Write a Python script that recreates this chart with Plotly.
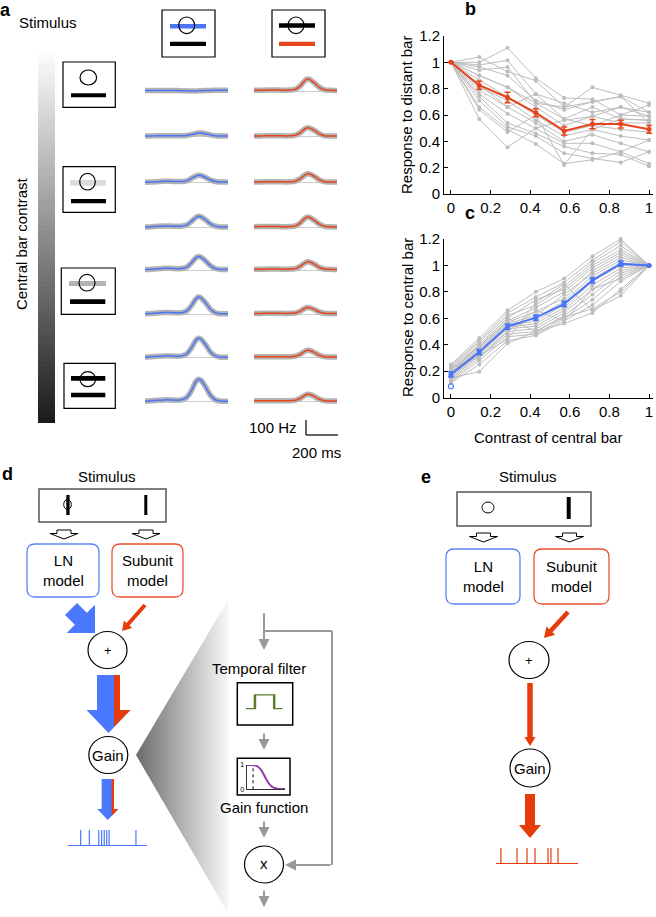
import math
import plotly.graph_objects as go

W, H = 656, 917

# ---------------- data ----------------
contrast = [0, 1/7, 2/7, 3/7, 4/7, 5/7, 6/7, 1]
contrast_ticks = [0, 0.2, 0.4, 0.6, 0.8, 1]
contrast_ticktext = ['0', '0.2', '0.4', '0.6', '0.8', '1']
response_ticks = [0, 0.2, 0.4, 0.6, 0.8, 1, 1.2]
response_ticktext = ['0', '0.2', '0.4', '0.6', '0.8', '1', '1.2']

distant_cells = [
    [1.0, 1.04, 0.93, 0.86, 0.66, 0.81, 0.75, 0.69],
    [1.0, 1.00, 1.11, 0.88, 0.73, 0.72, 0.60, 0.675],
    [1.0, 0.98, 1.015, 0.76, 0.69, 0.62, 0.66, 0.59],
    [1.0, 0.965, 0.90, 0.71, 0.64, 0.70, 0.74, 0.62],
    [1.0, 0.94, 0.965, 0.69, 0.57, 0.66, 0.57, 0.56],
    [1.0, 0.90, 0.81, 0.66, 0.52, 0.59, 0.54, 0.54],
    [1.0, 0.864, 0.74, 0.60, 0.47, 0.52, 0.49, 0.47],
    [1.0, 0.81, 0.71, 0.56, 0.44, 0.49, 0.44, 0.41],
    [1.0, 0.79, 0.66, 0.54, 0.40, 0.45, 0.385, 0.32],
    [1.0, 0.76, 0.61, 0.50, 0.385, 0.385, 0.32, 0.23],
    [1.0, 0.74, 0.54, 0.46, 0.36, 0.31, 0.30, 0.21],
    [1.0, 0.71, 0.51, 0.44, 0.31, 0.27, 0.24, 0.32],
    [1.0, 0.66, 0.49, 0.38, 0.23, 0.26, 0.32, 0.41],
    [1.0, 0.64, 0.47, 0.60, 0.22, 0.49, 0.57, 0.56],
    [1.0, 0.57, 0.355, 0.50, 0.56, 0.59, 0.66, 0.62],
    [1.0, 0.83, 0.66, 0.76, 0.57, 0.52, 0.60, 0.59],
    [1.0, 0.90, 0.81, 0.69, 0.66, 0.70, 0.74, 0.54],
]
distant_mean = [1.0, 0.826, 0.733, 0.617, 0.479, 0.531, 0.531, 0.491]
distant_err = [0.0, 0.03, 0.04, 0.03, 0.03, 0.035, 0.03, 0.03]

central_cells = [
    [0.25, 0.45, 0.66, 0.80, 0.90, 1.07, 1.20, 1.0],
    [0.24, 0.43, 0.64, 0.76, 0.87, 1.04, 1.18, 1.0],
    [0.23, 0.42, 0.62, 0.70, 0.84, 1.02, 1.15, 1.0],
    [0.22, 0.40, 0.60, 0.74, 0.82, 1.00, 1.12, 1.0],
    [0.21, 0.39, 0.58, 0.68, 0.80, 0.98, 1.10, 1.0],
    [0.20, 0.38, 0.57, 0.65, 0.75, 0.96, 1.08, 1.0],
    [0.19, 0.37, 0.56, 0.62, 0.78, 0.94, 1.06, 1.0],
    [0.18, 0.36, 0.55, 0.60, 0.73, 0.92, 1.04, 1.0],
    [0.17, 0.35, 0.54, 0.58, 0.70, 0.90, 1.02, 1.0],
    [0.16, 0.34, 0.53, 0.56, 0.68, 0.88, 1.00, 1.0],
    [0.15, 0.33, 0.52, 0.54, 0.66, 0.85, 0.98, 1.0],
    [0.14, 0.32, 0.50, 0.52, 0.64, 0.82, 0.96, 1.0],
    [0.13, 0.30, 0.48, 0.50, 0.62, 0.78, 0.94, 1.0],
    [0.12, 0.28, 0.46, 0.48, 0.60, 0.74, 0.92, 1.0],
    [0.11, 0.25, 0.43, 0.47, 0.58, 0.70, 0.88, 1.0],
    [0.15, 0.195, 0.41, 0.50, 0.56, 0.64, 0.82, 1.0],
    [0.20, 0.32, 0.44, 0.72, 0.86, 0.66, 0.77, 1.0],
    [0.18, 0.40, 0.60, 0.50, 0.61, 0.67, 0.80, 1.0],
    [0.23, 0.30, 0.50, 0.66, 0.58, 0.82, 0.90, 1.0],
]
central_mean = [0.175, 0.344, 0.537, 0.605, 0.709, 0.886, 1.013, 1.0]
central_err = [0.02, 0.02, 0.02, 0.02, 0.02, 0.02, 0.02, 0.0]
central_open_x = [0]
central_open_y = [0.085]

# panel a: firing-rate traces (Hz) vs time (ms)
trace_time = [0, 40, 80, 120, 160, 200, 230, 260, 290, 320, 335, 350, 380, 410, 440, 470, 500, 520]
blue_rates = [
    [4, 4, 4, 4, 3, 3, 2, 1, 0, 0, 1, 2, 3, 4, 5, 5, 5, 5],
    [4, 5, 6, 7, 7, 6, 6, 8, 14, 22, 25, 25, 20, 12, 7, 5, 5, 5],
    [3, 5, 7, 9, 9, 8, 8, 12, 28, 45, 50, 48, 35, 18, 8, 5, 4, 4],
    [3, 5, 8, 10, 10, 8, 9, 16, 40, 68, 75, 72, 50, 24, 9, 4, 3, 3],
    [3, 5, 8, 11, 11, 9, 10, 18, 46, 82, 90, 86, 60, 28, 10, 4, 3, 3],
    [3, 6, 9, 12, 12, 10, 11, 21, 56, 104, 115, 110, 76, 34, 11, 4, 3, 3],
    [3, 6, 9, 12, 12, 10, 12, 24, 64, 118, 130, 124, 86, 38, 12, 4, 3, 3],
    [3, 6, 9, 12, 12, 10, 13, 27, 72, 136, 150, 143, 98, 43, 13, 4, 3, 3],
]
red_rates = [
    [5, 5, 6, 6, 6, 5, 6, 12, 34, 70, 80, 76, 52, 24, 8, 5, 4, 4],
    [5, 5, 6, 6, 6, 5, 6, 10, 27, 53, 60, 57, 40, 19, 7, 5, 4, 4],
    [5, 5, 6, 7, 6, 5, 6, 10, 27, 52, 60, 58, 41, 19, 7, 5, 4, 4],
    [5, 6, 7, 7, 6, 5, 6, 11, 31, 62, 70, 67, 46, 22, 8, 5, 4, 4],
    [5, 5, 6, 6, 6, 5, 6, 9, 25, 48, 55, 53, 37, 17, 7, 5, 4, 4],
    [6, 6, 7, 7, 7, 6, 7, 9, 21, 40, 45, 43, 31, 15, 7, 5, 5, 5],
    [6, 6, 7, 7, 7, 6, 7, 10, 23, 44, 50, 48, 34, 16, 7, 5, 5, 5],
    [6, 6, 7, 7, 7, 6, 7, 10, 23, 44, 50, 48, 34, 16, 7, 5, 5, 5],
]

contrast_levels = list(range(60))  # gradient bar levels

spikes_d = [16, 27, 39, 42.6, 45.9, 49, 52, 86]
spikes_e = [6, 25.6, 37.8, 47.6, 63.4, 67, 75.6]
filter_t = [0, 0.25, 0.25, 0.77, 0.77, 1]
filter_v = [0, 0, 1, 1, 0, 0]
gainfn_x = [0, 0.1, 0.2, 0.3, 0.4, 0.5, 0.6, 0.7, 0.8, 0.9, 1]
gainfn_y = [1, 1, 0.99, 0.93, 0.75, 0.45, 0.2, 0.07, 0.02, 0.01, 0.01]
gainfn_threshold = [0.17]

# ---------------- styling ----------------
BLUE = '#4b74f7'
RED = '#e8441c'
ABLUE = '#4a78ff'
ARED = '#e63c0a'
GRAY = '#bdbdbd'
FONT = 'Liberation Sans, Arial, sans-serif'


def X(px):
    return px / W


def Y(py):
    return 1 - py / H


def P(x, y):
    return f"{X(x):.5f},{Y(y):.5f}"


def poly(pts):
    return 'M ' + ' L '.join(P(x, y) for x, y in pts) + ' Z'


shapes = []
annotations = []


def rect(x0, y0, x1, y1, fill='rgba(0,0,0,0)', line=None, lw=1.2):
    shapes.append(dict(type='rect', xref='paper', yref='paper', x0=X(x0), x1=X(x1), y0=Y(y0), y1=Y(y1),
                       fillcolor=fill, line=dict(color=line or 'rgba(0,0,0,0)', width=lw if line else 0)))


def ellipse(cx, cy, rx, ry, line='black', lw=1.2, fill='rgba(0,0,0,0)'):
    shapes.append(dict(type='circle', xref='paper', yref='paper', x0=X(cx - rx), x1=X(cx + rx),
                       y0=Y(cy - ry), y1=Y(cy + ry), fillcolor=fill, line=dict(color=line, width=lw)))


def path(d, fill='rgba(0,0,0,0)', line=None, lw=1.0):
    shapes.append(dict(type='path', xref='paper', yref='paper', path=d, fillcolor=fill,
                       line=dict(color=line or 'rgba(0,0,0,0)', width=lw if line else 0)))


def seg(x0, y0, x1, y1, color, lw):
    shapes.append(dict(type='line', xref='paper', yref='paper', x0=X(x0), x1=X(x1), y0=Y(y0), y1=Y(y1),
                       line=dict(color=color, width=lw)))


def text(t, x, y, size=15, angle=0, bold=False, color='black'):
    annotations.append(dict(text=f'<b>{t}</b>' if bold else t, x=X(x), y=Y(y), xref='paper', yref='paper',
                            showarrow=False, xanchor='center', yanchor='middle', textangle=angle,
                            font=dict(size=size, family=FONT, color=color)))


def garrow(x, y, ax, ay):
    annotations.append(dict(text='', x=X(x), y=Y(y), xref='paper', yref='paper', showarrow=True,
                            ax=ax, ay=ay, arrowhead=2, arrowsize=1.1, arrowwidth=2, arrowcolor='#999999'))


def block_arrow(tail, tip, shaft_w, head_w, head_len):
    (x0, y0), (x1, y1) = tail, tip
    dx, dy = x1 - x0, y1 - y0
    L = math.hypot(dx, dy)
    ux, uy = dx / L, dy / L
    px, py = -uy, ux
    bx, by = x1 - ux * head_len, y1 - uy * head_len
    pts = [(x0 + px * shaft_w / 2, y0 + py * shaft_w / 2), (bx + px * shaft_w / 2, by + py * shaft_w / 2),
           (bx + px * head_w / 2, by + py * head_w / 2), (x1, y1),
           (bx - px * head_w / 2, by - py * head_w / 2), (bx - px * shaft_w / 2, by - py * shaft_w / 2),
           (x0 - px * shaft_w / 2, y0 - py * shaft_w / 2)]
    return poly(pts)


def rounded(x0, y0, x1, y1, r):
    return (f"M {P(x0 + r, y0)} L {P(x1 - r, y0)} Q {P(x1, y0)} {P(x1, y0 + r)} "
            f"L {P(x1, y1 - r)} Q {P(x1, y1)} {P(x1 - r, y1)} L {P(x0 + r, y1)} "
            f"Q {P(x0, y1)} {P(x0, y1 - r)} L {P(x0, y0 + r)} Q {P(x0, y0)} {P(x0 + r, y0)} Z")


def hollow_arrow(cx, y0):
    pts = [(cx - 7, y0), (cx + 7, y0), (cx + 7, y0 + 3.5), (cx + 14, y0 + 3.5), (cx, y0 + 9),
           (cx - 14, y0 + 3.5), (cx - 7, y0 + 3.5)]
    path(poly(pts), fill='white', line='black', lw=1)


fig = go.Figure()
layout = dict(width=W, height=H, autosize=False, margin=dict(l=0, r=0, t=0, b=0, autoexpand=False),
              paper_bgcolor='white', plot_bgcolor='white', showlegend=False,
              font=dict(family=FONT, size=15, color='black'))

# ---------------- panels b and c ----------------
def style_axes(xa, ya, ydom):
    layout[xa] = dict(domain=[X(444), X(653)], range=[-0.035, 1.02], anchor=ya.replace('axis', ''),
                      tickvals=contrast_ticks, ticktext=contrast_ticktext, ticks='inside', ticklen=4,
                      tickcolor='black', showline=True, linecolor='black', linewidth=1, showgrid=False,
                      zeroline=False, tickfont=dict(size=15))
    layout[ya] = dict(domain=ydom, range=[0, 1.2], anchor=xa.replace('axis', ''),
                      tickvals=response_ticks, ticktext=response_ticktext, ticks='inside', ticklen=4,
                      tickcolor='black', showline=True, linecolor='black', linewidth=1, showgrid=False,
                      zeroline=False, tickfont=dict(size=15))


style_axes('xaxis', 'yaxis', [Y(194), Y(36)])
style_axes('xaxis2', 'yaxis2', [Y(397.5), Y(239)])

for cell in distant_cells:
    fig.add_trace(go.Scatter(x=contrast, y=cell, mode='lines+markers', xaxis='x', yaxis='y',
                             line=dict(color=GRAY, width=1), marker=dict(size=4, color=GRAY),
                             cliponaxis=False, hoverinfo='skip'))
fig.add_trace(go.Scatter(x=contrast, y=distant_mean, mode='lines+markers', xaxis='x', yaxis='y',
                         line=dict(color=RED, width=2), marker=dict(size=5, color=RED),
                         error_y=dict(type='data', array=distant_err, color=RED, thickness=1.5, width=3),
                         cliponaxis=False))

for cell in central_cells:
    fig.add_trace(go.Scatter(x=contrast, y=cell, mode='lines+markers', xaxis='x2', yaxis='y2',
                             line=dict(color=GRAY, width=1), marker=dict(size=4, color=GRAY),
                             cliponaxis=False, hoverinfo='skip'))
fig.add_trace(go.Scatter(x=contrast, y=central_mean, mode='lines+markers', xaxis='x2', yaxis='y2',
                         line=dict(color=BLUE, width=2), marker=dict(size=5, color=BLUE),
                         error_y=dict(type='data', array=central_err, color=BLUE, thickness=1.5, width=3),
                         cliponaxis=False))
fig.add_trace(go.Scatter(x=central_open_x, y=central_open_y, mode='markers', xaxis='x2', yaxis='y2',
                         marker=dict(size=5, color=BLUE, symbol='circle-open', line=dict(width=1.2)),
                         cliponaxis=False))

text('b', 470, 9, size=18, bold=True)
text('c', 470, 213, size=18, bold=True)
text('Response to distant bar', 407, 115, angle=-90)
text('Response to central bar', 407, 318, angle=-90)
text('Contrast of central bar', 548, 437)

# ---------------- panel a ----------------
row_base = [91, 136.7, 182.7, 227.5, 270, 314.3, 357.7, 401.7]
col_px = [(145, 228), (254, 337)]
hz_per_px = 100 / 15.0
n = 3
for c, (rates, color) in enumerate([(blue_rates, BLUE), (red_rates, RED)]):
    for r, vals in enumerate(rates):
        base = row_base[r]
        layout[f'xaxis{n}'] = dict(domain=[X(col_px[c][0]), X(col_px[c][1])], range=[0, 520],
                                   visible=False, anchor=f'y{n}')
        layout[f'yaxis{n}'] = dict(domain=[Y(base + 6), Y(base - 30)], range=[-6 * hz_per_px, 30 * hz_per_px],
                                   anchor=f'x{n}', showgrid=False, showticklabels=False, ticks='',
                                   showline=False, zeroline=True, zerolinecolor='#cccccc', zerolinewidth=1)
        fig.add_trace(go.Scatter(x=trace_time, y=vals, xaxis=f'x{n}', yaxis=f'y{n}', mode='lines',
                                 line=dict(color='#b3b3b3', width=5.5, shape='spline'), hoverinfo='skip'))
        fig.add_trace(go.Scatter(x=trace_time, y=vals, xaxis=f'x{n}', yaxis=f'y{n}', mode='lines',
                                 line=dict(color=color, width=1.5, shape='spline')))
        n += 1

# gradient contrast bar
layout['xaxis19'] = dict(domain=[X(38), X(55)], range=[-0.5, 0.5], visible=False, anchor='y19')
layout['yaxis19'] = dict(domain=[Y(423), Y(52)], range=[-0.5, len(contrast_levels) - 0.5], visible=False, anchor='x19')
fig.add_trace(go.Heatmap(z=[[v] for v in contrast_levels], x=[0], y=contrast_levels, xaxis='x19', yaxis='y19',
                         colorscale=[[0, '#1c1c1c'], [1, '#fbfbfb']], showscale=False, hoverinfo='skip'))

text('a', 5, 10, size=18, bold=True)
text('Stimulus', 48, 22)
text('Central bar contrast', 21, 244, angle=-90)
text('100 Hz', 273, 427)
text('200 ms', 316, 452)
seg(306, 420, 306, 435, 'black', 1.2)
seg(306, 435, 338, 435, 'black', 1.2)

# stimulus icons (top)
rect(162, 10, 215, 57, line='black', lw=1.2)
rect(170, 24, 206, 28.5, fill=BLUE)
rect(170, 41.7, 206, 46, fill='black')
ellipse(186.7, 25.3, 8, 8.3)
rect(272, 10, 325, 57, line='black', lw=1.2)
rect(279, 23.3, 315, 27.7, fill='black')
rect(279, 41.7, 315, 46, fill=RED)
ellipse(296, 25.3, 8, 8.3)
# stimulus icons (left)
rect(63, 62, 115.3, 107.3, line='black', lw=1.2)
ellipse(88.3, 77.5, 8.3, 7.5)
rect(71, 93.3, 106, 97.3, fill='black')
rect(63, 166.7, 115.3, 212.3, line='black', lw=1.2)
rect(70, 180, 106, 185.7, fill='#dddddd')
ellipse(87.5, 181.7, 7.8, 8.3)
rect(71, 199, 106, 203.3, fill='black')
rect(61.3, 268, 115.3, 314.3, line='black', lw=1.2)
rect(69, 281, 106, 286, fill='#b3b3b3')
ellipse(87, 282.7, 8, 8.3)
rect(70, 299.3, 105.3, 304, fill='black')
rect(64, 363.3, 115.3, 408.3, line='black', lw=1.2)
rect(71, 376, 105.3, 380.7, fill='black')
ellipse(87.8, 379.2, 7.8, 7.5)
rect(71, 392.7, 105.3, 397.3, fill='black')

# ---------------- panel d ----------------
text('d', 7, 474, size=18, bold=True)
text('Stimulus', 107, 477)
rect(39, 489, 166, 522, line='#555555', lw=1.5)
ellipse(67.5, 504.5, 3.8, 5, lw=1)
rect(66.3, 495, 69.6, 515, fill='black')
rect(144.3, 495, 147.3, 515, fill='black')
hollow_arrow(64, 530)
hollow_arrow(146, 530)
path(rounded(27, 544, 99, 597, 8), line='#5c86f7', lw=1.3)
path(rounded(112, 544, 183, 597, 8), line='#e9532d', lw=1.3)
text('LN<br>model', 63, 570)
text('Subunit<br>model', 148, 570)
path(block_arrow((71, 609), (95, 633), 17, 40, 20), fill=ABLUE)
path(block_arrow((145, 605), (122, 631), 4, 11, 9), fill=ARED)
ellipse(107.5, 650, 19.5, 18.5)
text('+', 107.5, 650, size=13)
path(block_arrow((108.5, 675), (108.5, 733), 23, 44, 23), fill=ABLUE)
path(poly([(114, 675), (120, 675), (120, 710), (130.5, 710), (114, 726.7)]), fill=ARED)
ellipse(108.3, 755, 19.5, 18.5)
text('Gain', 108.3, 755)
path(block_arrow((107.8, 779), (107.8, 820), 12.3, 21, 11), fill=ABLUE)
path(poly([(111.7, 779), (114, 779), (114, 809), (118.3, 809), (111.7, 815.8)]), fill=ARED)

# gradient wedge
nstrip = 46
x_tip, y_tip, x_end = 136, 755, 228
for k in range(nstrip):
    xa = x_tip + (x_end - x_tip) * k / nstrip
    xb = x_tip + (x_end - x_tip) * (k + 1.15) / nstrip
    xb = min(xb, x_end)
    ta = y_tip - (xa - x_tip) * 155 / 92
    tb = y_tip - (xb - x_tip) * 155 / 92
    ba = y_tip + (xa - x_tip) * 158 / 92
    bb = y_tip + (xb - x_tip) * 158 / 92
    g = int(108 + (248 - 108) * (k + 0.5) / nstrip)
    path(poly([(xa, ta), (xb, tb), (xb, bb), (xa, ba)]), fill=f'rgb({g},{g},{g})')

# right-hand gain-control loop
seg(264, 613, 264, 631, '#999999', 2)
seg(264, 631, 332, 631, '#999999', 2)
seg(332, 631, 332, 865, '#999999', 2)
garrow(264, 650, 0, -37)
garrow(285, 865, 47, 0)
text('Temporal filter', 259, 668)
rect(237.3, 682.7, 292.7, 725, line='black', lw=1.5)
garrow(264, 750, 0, -18)
rect(237.3, 758.3, 290, 795, line='black', lw=1.5)
text('Gain function', 263.5, 807)
garrow(264, 838, 0, -18)
ellipse(264, 864.5, 19.5, 18.5)
text('x', 264, 863)
garrow(264, 907, 0, -18)

# temporal filter icon
layout['xaxis22'] = dict(domain=[X(245.7), X(282.7)], range=[0, 1], visible=False, anchor='y22')
layout['yaxis22'] = dict(domain=[Y(709.3), Y(694.3)], range=[0, 1], visible=False, anchor='x22')
fig.add_trace(go.Scatter(x=filter_t, y=filter_v, xaxis='x22', yaxis='y22', mode='lines',
                         line=dict(color='#5e7b2c', width=2.5), cliponaxis=False))

# gain function icon
layout['xaxis23'] = dict(domain=[X(246.5), X(285)], range=[0, 1], anchor='y23', showline=True,
                         linecolor='#333333', linewidth=1, ticks='', showticklabels=False,
                         showgrid=False, zeroline=False)
layout['yaxis23'] = dict(domain=[Y(789.3), Y(765)], range=[0, 1], anchor='x23', showline=True,
                         linecolor='#333333', linewidth=1, ticks='', tickvals=[0, 1], ticktext=['0', '1'],
                         tickfont=dict(size=7), showgrid=False, zeroline=False)
fig.add_trace(go.Scatter(x=gainfn_threshold * 2, y=[0, 1], xaxis='x23', yaxis='y23', mode='lines',
                         line=dict(color='black', width=1, dash='dot')))
fig.add_trace(go.Scatter(x=gainfn_x, y=gainfn_y, xaxis='x23', yaxis='y23', mode='lines',
                         line=dict(color='#8e3fa8', width=2, shape='spline'), cliponaxis=False))

# spike trains
def spike_axes(k, x0, x1, ybase, color):
    layout[f'xaxis{k}'] = dict(domain=[X(x0), X(x1)], range=[0, 100], visible=False, anchor=f'y{k}')
    layout[f'yaxis{k}'] = dict(domain=[Y(ybase + 1), Y(ybase - 15)], range=[-1 / 15, 1], anchor=f'x{k}',
                               showgrid=False, showticklabels=False, ticks='', showline=False,
                               zeroline=True, zerolinecolor=color, zerolinewidth=1.2)


spike_axes(20, 68, 147, 845, ABLUE)
sx, sy = [], []
for t in spikes_d:
    sx += [t, t, None]
    sy += [0, 1, None]
fig.add_trace(go.Scatter(x=sx, y=sy, xaxis='x20', yaxis='y20', mode='lines',
                         line=dict(color=ABLUE, width=1.2)))

# ---------------- panel e ----------------
text('e', 426, 477, size=18, bold=True)
text('Stimulus', 528, 477)
rect(457, 492, 591, 526, line='#555555', lw=1.5)
ellipse(488, 507.5, 6, 5.5, lw=1)
rect(566.7, 497, 570.7, 519, fill='black')
hollow_arrow(483.5, 533)
hollow_arrow(569.5, 533)
path(rounded(446, 549, 520, 604, 8), line='#5c86f7', lw=1.3)
path(rounded(534, 549, 609, 604, 8), line='#e9532d', lw=1.3)
text('LN<br>model', 483, 576)
text('Subunit<br>model', 571.5, 576)
path(block_arrow((568, 612), (544, 638), 4.5, 12, 10), fill=ARED)
ellipse(529, 660, 20, 18.5)
text('+', 529, 660, size=13)
path(block_arrow((530, 683), (530, 746), 5.5, 11, 9), fill=ARED)
ellipse(530, 768, 20, 19)
text('Gain', 530, 768)
path(block_arrow((530, 794), (530, 838), 10, 22, 13), fill=ARED)

spike_axes(21, 496, 578, 863, ARED)
sx, sy = [], []
for t in spikes_e:
    sx += [t, t, None]
    sy += [0, 1, None]
fig.add_trace(go.Scatter(x=sx, y=sy, xaxis='x21', yaxis='y21', mode='lines',
                         line=dict(color=ARED, width=1.2)))

layout['shapes'] = shapes
layout['annotations'] = annotations
fig.update_layout(**layout)
fig.write_html('out.html', config={'displayModeBar': False},
               post_script="document.body.style.margin='0';document.body.style.overflow='hidden';")
